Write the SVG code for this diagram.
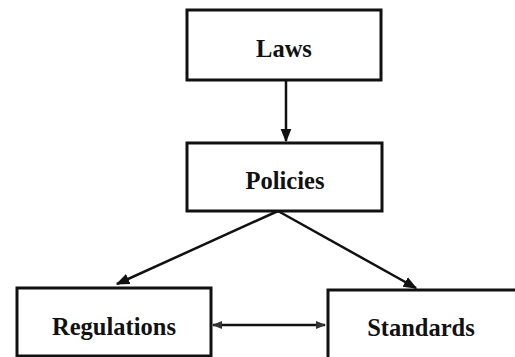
<svg xmlns="http://www.w3.org/2000/svg" width="515" height="357" viewBox="0 0 515 357">
<style>
.box{fill:#fff;stroke:#111;stroke-width:3}
.lbl{font-family:"Liberation Serif",serif;font-weight:bold;font-size:24.5px;fill:#111;text-anchor:middle}
.con{stroke:#111;stroke-width:2.5;fill:none}
</style>
<defs>
<marker id="ah" viewBox="0 0 10 10" refX="9" refY="5" markerWidth="5.5" markerHeight="5.5" orient="auto-start-reverse" markerUnits="strokeWidth">
<path d="M0,1 L10,5 L0,9 z" fill="#111"/>
</marker>
<marker id="sh" viewBox="0 0 10 10" refX="9" refY="5" markerWidth="4" markerHeight="4" orient="auto-start-reverse" markerUnits="strokeWidth">
<path d="M0,1 L10,5 L0,9 z" fill="#333"/>
</marker>
</defs>
<rect width="515" height="357" fill="#fff"/>
<g id="connectors">
<line class="con" x1="286" y1="81" x2="286" y2="141" marker-end="url(#ah)"/>
<line class="con" x1="278" y1="211" x2="117" y2="284" marker-end="url(#ah)"/>
<line class="con" x1="278" y1="211" x2="416" y2="288" marker-end="url(#ah)"/>
<line class="con" x1="213" y1="325" x2="325" y2="325" stroke="#333" marker-start="url(#sh)" marker-end="url(#sh)"/>
</g>
<g id="laws">
<rect class="box" x="187" y="10" width="194" height="70"/>
<text class="lbl" x="284" y="57">Laws</text>
</g>
<g id="policies">
<rect class="box" x="187" y="143" width="195" height="68"/>
<text class="lbl" x="285" y="189">Policies</text>
</g>
<g id="regulations">
<rect class="box" x="17" y="288" width="194" height="68"/>
<text class="lbl" x="114" y="335">Regulations</text>
</g>
<g id="standards">
<rect class="box" x="328" y="290" width="200" height="80"/>
<text class="lbl" x="421" y="336">Standards</text>
</g>
</svg>
